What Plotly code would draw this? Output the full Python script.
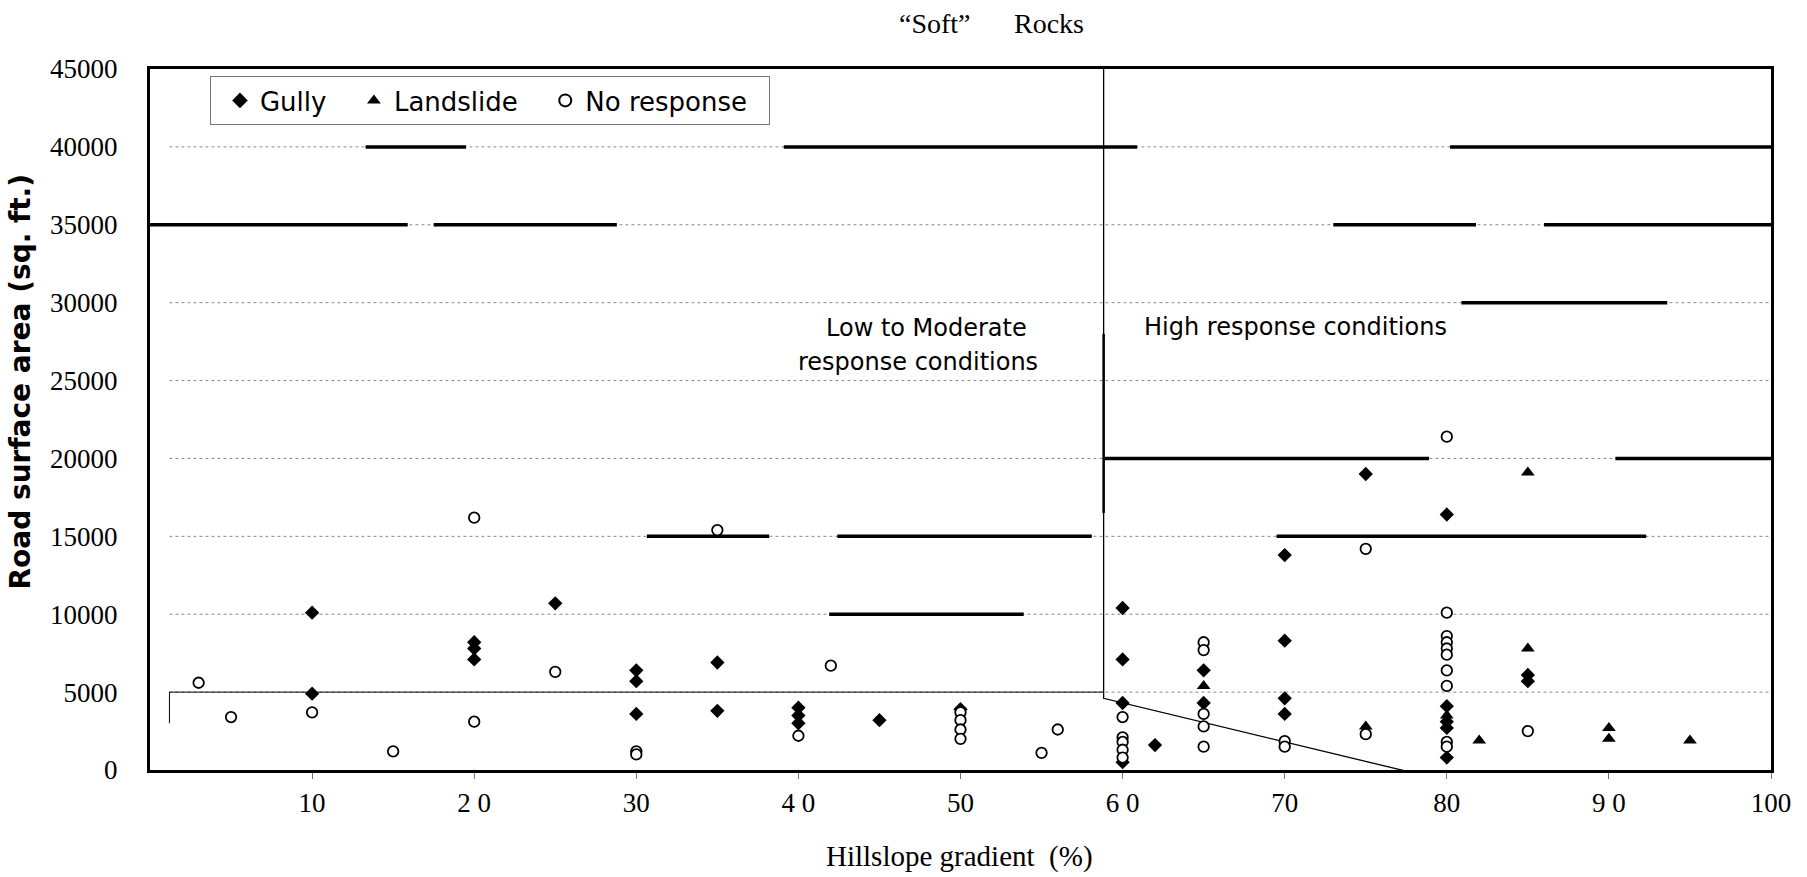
import plotly.graph_objects as go

# ---------------- data ----------------
gully_x = [10, 10, 20, 20, 20, 25, 30, 30, 30, 35, 35, 40, 40, 40, 45, 50,
           60, 60, 60, 60, 62, 65, 65, 70, 70, 70, 70, 75, 80, 80, 80, 80, 80, 85, 85]
gully_y = [10100, 4900, 8200, 7800, 7100, 10700, 6400, 5700, 3600, 6900, 3800, 4000, 3500, 3000, 3200, 3900,
           10400, 7100, 4300, 500, 1600, 6400, 4300, 13800, 8300, 4600, 3600, 19000, 16400, 4100, 3100, 2700, 800, 6100, 5700]

landslide_x = [65, 75, 80, 82, 85, 85, 90, 90, 95]
landslide_y = [5400, 2800, 3500, 1900, 19100, 7800, 2700, 2000, 1900]

noresp_x = [3, 5, 10, 15, 20, 20, 25, 30, 30, 35, 40, 42, 50, 50, 50, 50, 55, 56,
            60, 60, 60, 60, 60, 65, 65, 65, 65, 65, 70, 70, 75, 75,
            80, 80, 80, 80, 80, 80, 80, 80, 80, 80, 85]
noresp_y = [5600, 3400, 3700, 1200, 16200, 3100, 6300, 1200, 1000, 15400, 2200, 6700, 3700, 3200, 2600, 2000, 1100, 2600,
            3400, 2100, 1800, 1300, 800, 8200, 7700, 3600, 2800, 1500, 1850, 1500, 14200, 2300,
            21400, 10100, 8600, 8200, 7800, 7400, 6400, 5400, 1800, 1500, 2500]

x_tickvals = [10, 20, 30, 40, 50, 60, 70, 80, 90, 100]
x_ticktext = ["10", "2 0", "30", "4 0", "50", "6 0", "70", "80", "9 0", "100"]
y_tickvals = [0, 5000, 10000, 15000, 20000, 25000, 30000, 35000, 40000, 45000]
y_ticktext = ["0", "5000", "10000", "15000", "20000", "25000", "30000", "35000", "40000", "45000"]

# boundary between response zones (data coordinates)
boundary_x = [58.83, 58.83, 79.2]
boundary_y = [45000, 4600, -500]
# small bracket on the left
bracket_x = [1.2, 1.2, 58.83]
bracket_y = [3000, 5000, 5000]

# heavy rule fragments visible on the scanned gridlines: (y, x_start, x_end)
rule_segments = [
    (40000, 13.3, 19.5), (40000, 39.1, 60.9), (40000, 80.2, 100),
    (35000, 0, 15.9), (35000, 17.5, 28.8), (35000, 73.0, 81.8), (35000, 86.0, 100),
    (30000, 80.9, 93.6),
    (20000, 58.8, 78.9), (20000, 90.4, 100),
    (15000, 30.65, 38.2), (15000, 42.4, 58.1), (15000, 69.5, 92.3),
    (10000, 41.9, 53.9),
]
grid_x_start = 1.2

SERIF = "Liberation Serif, Times New Roman, serif"
SANS = "DejaVu Sans, Arial, sans-serif"

fig = go.Figure()

# zone boundary lines
fig.add_trace(go.Scatter(x=boundary_x, y=boundary_y, mode="lines",
                         line=dict(color="black", width=1.3), showlegend=False, hoverinfo="skip"))
fig.add_trace(go.Scatter(x=bracket_x, y=bracket_y, mode="lines",
                         line=dict(color="black", width=1), showlegend=False, hoverinfo="skip"))

fig.add_trace(go.Scatter(x=gully_x, y=gully_y, mode="markers", name="Gully\u2009\u00a0",
                         marker=dict(symbol="diamond", size=11, color="black")))
fig.add_trace(go.Scatter(x=landslide_x, y=landslide_y, mode="markers",
                         name="Landslide\u00a0\u2009",
                         marker=dict(symbol="triangle-up", size=12, color="black")))
fig.add_trace(go.Scatter(x=noresp_x, y=noresp_y, mode="markers", name="No response\u00a0\u00a0",
                         marker=dict(symbol="circle", size=10.5, color="white",
                                     line=dict(color="black", width=1.8))))

shapes = []
for yv in y_tickvals[1:-1]:
    shapes.append(dict(type="line", xref="x", yref="y", x0=grid_x_start, x1=100, y0=yv, y1=yv,
                       line=dict(color="#8a8a8a", width=1, dash="dot"), layer="below"))
for (yv, xa, xb) in rule_segments:
    shapes.append(dict(type="line", xref="x", yref="y", x0=xa, x1=xb, y0=yv, y1=yv,
                       line=dict(color="black", width=3.5), layer="below"))
# heavier stretch on the boundary line
shapes.append(dict(type="line", xref="x", yref="y", x0=boundary_x[0], x1=boundary_x[0],
                   y0=16500, y1=28000, line=dict(color="black", width=2.5), layer="below"))

annotations = [
    dict(text="Low to Moderate", x=47.9, y=28400, xref="x", yref="y", showarrow=False,
         font=dict(family=SANS, size=24, color="black")),
    dict(text="response conditions", x=47.4, y=26200, xref="x", yref="y", showarrow=False,
         font=dict(family=SANS, size=24, color="black")),
    dict(text="High response conditions", x=70.67, y=28450, xref="x", yref="y", showarrow=False,
         font=dict(family=SANS, size=24, color="black")),
    dict(text="\u201cSoft\u201d", x=0.4845, y=1.0656, xref="paper", yref="paper", showarrow=False,
         xanchor="center", yanchor="middle", font=dict(family=SERIF, size=28, color="black")),
    dict(text="Rocks", x=0.5549, y=1.0656, xref="paper", yref="paper", showarrow=False,
         xanchor="center", yanchor="middle", font=dict(family=SERIF, size=28, color="black")),
    dict(text="Hillslope gradient\u00a0\u00a0(%)", x=0.4991, y=-0.1227, xref="paper", yref="paper",
         showarrow=False, xanchor="center", yanchor="middle",
         font=dict(family=SERIF, size=29, color="black")),
    dict(text="<b>Road surface area (sq. ft.)</b>", x=-0.0796, y=0.5542, xref="paper", yref="paper",
         showarrow=False, xanchor="center", yanchor="middle", textangle=-90,
         font=dict(family="DejaVu Sans, Arial, sans-serif", size=28, color="black")),
]

fig.update_layout(
    width=1807, height=877, autosize=False,
    margin=dict(l=150, r=36, t=69, b=107),
    paper_bgcolor="white", plot_bgcolor="white",
    shapes=shapes, annotations=annotations,
    legend=dict(orientation="h", x=0.037, y=0.99, xanchor="left", yanchor="top",
                indentation=9, itemsizing="constant",
                bgcolor="white", bordercolor="#777", borderwidth=1,
                font=dict(family=SANS, size=26, color="black")),
    xaxis=dict(range=[0, 100], tickmode="array", tickvals=x_tickvals, ticktext=x_ticktext,
               showgrid=False, zeroline=False, showline=True, linecolor="black", linewidth=3,
               mirror=True, ticks="outside", ticklen=6, tickcolor="#777", tickwidth=1,
               ticklabelstandoff=1, tickfont=dict(family=SERIF, size=27, color="black")),
    yaxis=dict(range=[0, 45000], tickmode="array", tickvals=y_tickvals, ticktext=y_ticktext,
               showgrid=False, zeroline=False, showline=True, linecolor="black", linewidth=3,
               mirror=True, ticks="", ticklabelstandoff=24,
               tickfont=dict(family=SERIF, size=27, color="black")),
)

fig.write_html("out.html", config={"displayModeBar": False},
               post_script="document.body.style.margin='0';document.body.style.overflow='hidden';")
